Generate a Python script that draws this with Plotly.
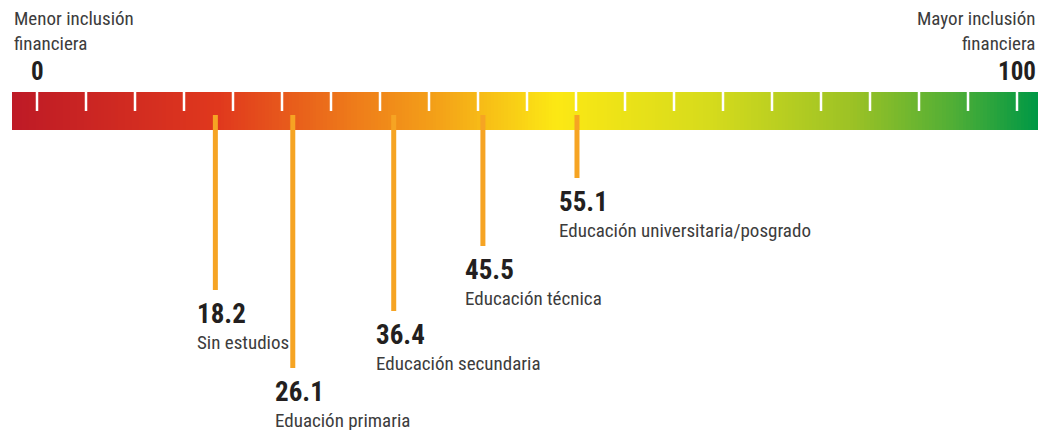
import plotly.graph_objects as go
import numpy as np

# ---- data ----
categories = ["Sin estudios", "Eduación primaria", "Educación secundaria",
              "Educación técnica", "Educación universitaria/posgrado"]
values = [18.2, 26.1, 36.4, 45.5, 55.1]
value_labels = ["18.2", "26.1", "36.4", "45.5", "55.1"]
scale_ticks = [0, 5, 10, 15, 20, 25, 30, 35, 40, 45, 50, 55, 60, 65, 70, 75, 80, 85, 90, 95, 100]
end_labels = ["0", "100"]
end_values = [0, 100]
left_title = "Menor inclusión<br>financiera"
right_title = "Mayor inclusión<br>financiera"

# ---- layout parameters (pixel-based vertical axis) ----
W, H = 1041, 430
px0, px_per_unit = 37.0, 9.8
x_range = [-px0 / px_per_unit, (W - px0) / px_per_unit]
bar_top, bar_bot = 92, 130
tick_bot = 111
bar_left = (12 - px0) / px_per_unit
bar_right = (1038 - px0) / px_per_unit
line_ends = [290, 368, 311, 246, 178]   # where each leader line stops (px)

FONT = "Liberation Sans Narrow, Roboto Condensed, Arial Narrow, Liberation Sans, sans-serif"
ORANGE = "#F6A423"
DARK = "#231F20"
GREY = "#3C3C3C"

fig = go.Figure()

# gradient bar
ncol = 300
edges = np.linspace(bar_left, bar_right, ncol + 1)
centers = (edges[:-1] + edges[1:]) / 2
zrow = np.linspace(0, 1, ncol)
colorscale = [
    [0.00, "#BE1A26"],
    [0.20, "#E0381D"],
    [0.33, "#EE7A1A"],
    [0.42, "#F4A418"],
    [0.53, "#FCE814"],
    [0.68, "#D6DB1C"],
    [0.82, "#9CC225"],
    [0.92, "#4FAE36"],
    [1.00, "#009845"],
]
fig.add_trace(go.Heatmap(
    x=centers, y=[(bar_top + tick_bot) / 2, (tick_bot + bar_bot) / 2],
    z=[zrow, zrow], colorscale=colorscale, showscale=False,
    hoverinfo="skip", zmin=0, zmax=1,
))

# white tick marks
tx, ty = [], []
for t in scale_ticks:
    tx += [t, t, None]
    ty += [bar_top, tick_bot, None]
fig.add_trace(go.Scatter(x=tx, y=ty, mode="lines",
                         line=dict(color="white", width=2.5),
                         hoverinfo="skip", showlegend=False))

# orange leader lines
for v, e in zip(values, line_ends):
    fig.add_trace(go.Scatter(x=[v, v], y=[115, e], mode="lines",
                             line=dict(color=ORANGE, width=5),
                             hoverinfo="skip", showlegend=False))

annotations = []
for v, e, lab, cat in zip(values, line_ends, value_labels, categories):
    annotations.append(dict(x=v, y=e + 6, xref="x", yref="y", text="<b>" + lab + "</b>",
                            xanchor="left", yanchor="top", xshift=-20,
                            showarrow=False,
                            font=dict(family=FONT, size=27, color=DARK)))
    annotations.append(dict(x=v, y=e + 39, xref="x", yref="y", text=cat,
                            xanchor="left", yanchor="top", xshift=-20,
                            showarrow=False,
                            font=dict(family=FONT, size=19, color=GREY)))

for v, lab in zip(end_values, end_labels):
    annotations.append(dict(x=v, y=88, xref="x", yref="y", text="<b>" + lab + "</b>",
                            xanchor="center", yanchor="bottom", showarrow=False,
                            font=dict(family=FONT, size=25, color=DARK)))

annotations.append(dict(x=12 / W, y=1 - 5 / H, xref="paper", yref="paper",
                        text=left_title, xanchor="left", yanchor="top",
                        align="left", showarrow=False,
                        font=dict(family=FONT, size=19, color=GREY)))
annotations.append(dict(x=1037 / W, y=1 - 5 / H, xref="paper", yref="paper",
                        text=right_title, xanchor="right", yanchor="top",
                        align="right", showarrow=False,
                        font=dict(family=FONT, size=19, color=GREY)))

fig.update_layout(
    width=W, height=H,
    margin=dict(l=0, r=0, t=0, b=0),
    paper_bgcolor="white", plot_bgcolor="white",
    xaxis=dict(range=x_range, visible=False, fixedrange=True),
    yaxis=dict(range=[H, 0], visible=False, fixedrange=True),
    showlegend=False,
    annotations=annotations,
)

fig.write_html("out.html", config={"displayModeBar": False},
               post_script="document.body.style.margin='0';document.body.style.overflow='hidden';")
